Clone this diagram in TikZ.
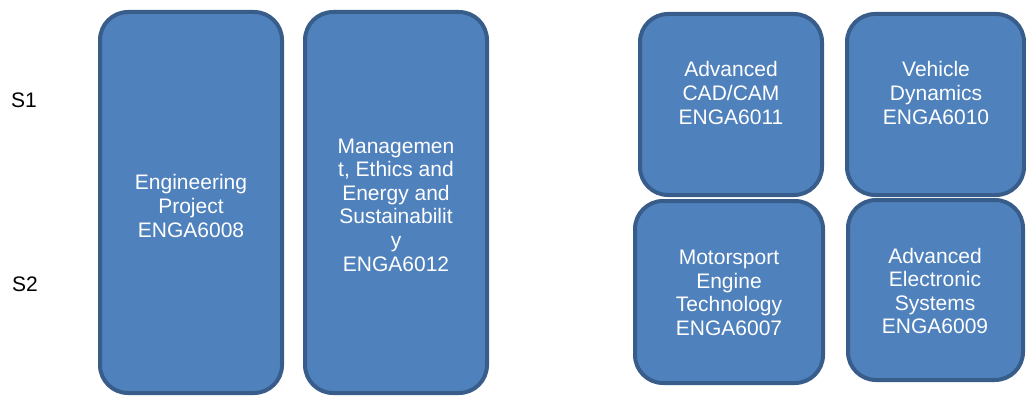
\documentclass[tikz,border=0pt]{standalone}
\usepackage{fontspec}
\setmainfont{Liberation Sans}
\definecolor{boxfill}{HTML}{4F81BD}
\definecolor{boxline}{HTML}{385D8A}
\begin{document}
\begin{tikzpicture}[x=1pt,y=-1pt,
  modbox/.style={draw=boxline,fill=boxfill,line width=4pt,rounded corners=28pt},
  modtext/.style={text=white,align=center,font=\fontsize{21}{23.6}\selectfont,inner sep=0pt},
  semtext/.style={text=black,font=\fontsize{21}{23.6}\selectfont,inner sep=0pt}]
\useasboundingbox (0,0) rectangle (1026,396);
% boxes
\draw[modbox] (100,12) rectangle (282,393) node[pos=0.5,coordinate] (b1) {};
\draw[modbox] (305,12) rectangle (487,393) node[pos=0.5,coordinate] (b2) {};
\draw[modbox] (640,14) rectangle (822,195) node[pos=0.5,coordinate] (b3) {};
\draw[modbox] (847,14) rectangle (1024,195) node[pos=0.5,coordinate] (b4) {};
\draw[modbox] (635,201) rectangle (823,383) node[pos=0.5,coordinate] (b5) {};
\draw[modbox] (848,200) rectangle (1023,380) node[pos=0.5,coordinate] (b6) {};
% texts
\node[modtext] (t1) at (191,206) {Engineering\\Project\\ENGA6008};
\node[modtext] (t2) at (396,205) {Managemen\\t, Ethics and\\Energy and\\Sustainabilit\\y\\ENGA6012};
\node[modtext] (t3) at (731,93) {Advanced\\CAD/CAM\\ENGA6011};
\node[modtext] (t4) at (936,93) {Vehicle\\Dynamics\\ENGA6010};
\node[modtext] (t5) at (729,293) {Motorsport\\Engine\\Technology\\ENGA6007};
\node[modtext] (t6) at (935,291) {Advanced\\Electronic\\Systems\\ENGA6009};
\node[semtext] (s1) at (24,100) {S1};
\node[semtext] (s2) at (25,284) {S2};
\end{tikzpicture}
\end{document}
